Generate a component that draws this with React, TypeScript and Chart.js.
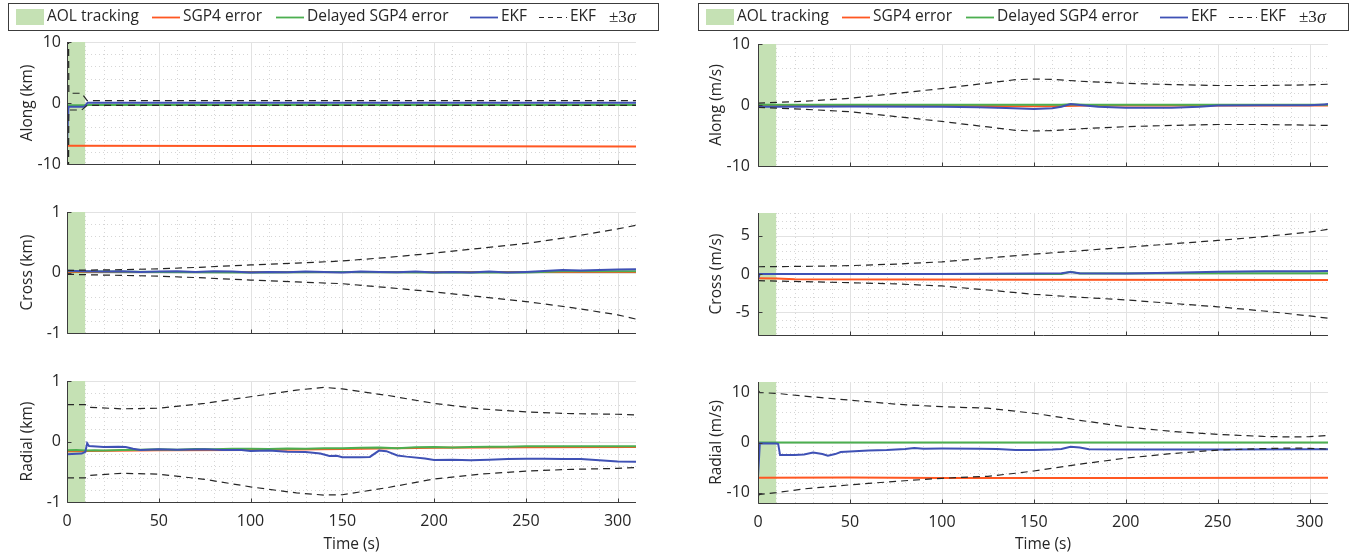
import React, { useEffect, useRef } from "react";
import { Chart, registerables } from "chart.js";

Chart.register(...registerables);

type Pt = [number, number];

// ---------------- shared axis data ----------------
const timeTicks = [0, 50, 100, 150, 200, 250, 300];
const timeMax = 310;
const timeMinorStep = 10;
const aolWindow = [0, 10];
const legendLabels = ["AOL tracking", "SGP4 error", "Delayed SGP4 error", "EKF", "EKF"];

// ---------------- left column: position error (km) ----------------
const alongKmSGP4: Pt[] = [[0, -7.0], [100, -7.05], [200, -7.08], [310, -7.12]];
const alongKmDelayed: Pt[] = [[0, -0.38], [10, -0.38], [12, -0.33], [310, -0.33]];
const alongKmEKF: Pt[] = [[0, -7.0], [0.8, -0.6], [9.5, -0.6], [11.2, 0.05], [310, 0.05]];
const alongKmUpper: Pt[] = [[0, 60], [1, 1.6], [8, 1.6], [11, 0.4], [310, 0.4]];
const alongKmLower: Pt[] = [[0, -60], [1, -1.15], [8, -1.15], [11, -0.38], [310, -0.38]];

const crossKmSGP4: Pt[] = [[0, 0.01], [310, 0.01]];
const crossKmDelayed: Pt[] = [[0, 0.02], [50, 0.01], [100, 0.0], [150, 0.01], [200, 0.0], [250, 0.0], [270, 0.02], [310, 0.02]];
const crossKmEKF: Pt[] = [
  [0, 0.03], [10, 0.02], [20, 0.015], [30, 0.02], [40, 0.01], [50, 0.015], [60, 0.02], [70, 0.01],
  [80, 0.02], [90, 0.015], [100, 0.0], [110, 0.01], [120, 0.005], [130, 0.015], [140, 0.01], [150, 0.0],
  [160, 0.015], [170, 0.01], [180, 0.005], [190, 0.015], [200, 0.0], [210, 0.01], [220, 0.0], [230, 0.015],
  [240, 0.0], [250, 0.01], [260, 0.025], [270, 0.04], [280, 0.035], [290, 0.04], [300, 0.05], [310, 0.055],
];
const crossKmUpper: Pt[] = [[0, 0.035], [25, 0.045], [50, 0.06], [75, 0.09], [100, 0.125], [125, 0.155], [150, 0.19], [175, 0.25], [200, 0.32], [225, 0.4], [250, 0.48], [275, 0.59], [300, 0.72], [310, 0.78]];
const crossKmLower: Pt[] = [[0, -0.03], [25, -0.045], [50, -0.06], [75, -0.09], [100, -0.125], [125, -0.155], [150, -0.185], [175, -0.25], [200, -0.32], [225, -0.4], [250, -0.48], [275, -0.58], [300, -0.7], [310, -0.77]];

const radialKmSGP4: Pt[] = [[0, -0.16], [50, -0.145], [100, -0.14], [150, -0.125], [200, -0.105], [250, -0.095], [310, -0.09]];
const radialKmDelayed: Pt[] = [
  [0, -0.145], [5, -0.14], [10, -0.15], [15, -0.145], [20, -0.15], [30, -0.14], [40, -0.135], [50, -0.13],
  [60, -0.135], [70, -0.125], [80, -0.13], [90, -0.12], [100, -0.12], [110, -0.125], [120, -0.115], [130, -0.12],
  [140, -0.11], [150, -0.11], [160, -0.105], [170, -0.1], [180, -0.11], [190, -0.095], [200, -0.09], [210, -0.1],
  [220, -0.09], [230, -0.085], [240, -0.085], [250, -0.08], [270, -0.08], [290, -0.08], [310, -0.08],
];
const radialKmEKF: Pt[] = [
  [0, -0.21], [8, -0.2], [10, -0.17], [11, -0.03], [12, -0.075], [20, -0.09], [28, -0.085], [32, -0.09],
  [36, -0.12], [40, -0.14], [50, -0.13], [60, -0.135], [75, -0.13], [85, -0.14], [95, -0.14], [100, -0.155],
  [110, -0.15], [120, -0.17], [130, -0.175], [138, -0.2], [143, -0.24], [147, -0.235], [150, -0.26], [160, -0.26],
  [165, -0.255], [170, -0.15], [174, -0.16], [180, -0.23], [185, -0.25], [195, -0.28], [200, -0.305], [210, -0.3],
  [220, -0.31], [230, -0.3], [240, -0.29], [250, -0.285], [260, -0.285], [270, -0.29], [280, -0.29], [290, -0.31],
  [300, -0.33], [310, -0.335],
];
const radialKmUpper: Pt[] = [[0, 0.61], [10, 0.61], [12, 0.565], [30, 0.54], [50, 0.55], [75, 0.63], [100, 0.74], [125, 0.85], [140, 0.895], [150, 0.87], [175, 0.76], [200, 0.63], [225, 0.54], [250, 0.49], [275, 0.46], [300, 0.45], [310, 0.44]];
const radialKmLower: Pt[] = [[0, -0.6], [10, -0.6], [12, -0.56], [30, -0.525], [50, -0.54], [75, -0.625], [100, -0.75], [125, -0.85], [140, -0.885], [150, -0.88], [175, -0.76], [200, -0.62], [225, -0.54], [250, -0.49], [275, -0.46], [300, -0.445], [310, -0.43]];

// ---------------- right column: velocity error (m/s) ----------------
const alongMsSGP4: Pt[] = [[0, -0.1], [100, -0.1], [140, -0.2], [160, -0.2], [180, -0.1], [310, -0.1]];
const alongMsDelayed: Pt[] = [[0, 0.05], [165, 0.05], [170, 0.12], [178, 0.05], [310, 0.05]];
const alongMsEKF: Pt[] = [[0, -0.3], [10, -0.3], [50, -0.25], [100, -0.3], [120, -0.35], [135, -0.5], [150, -0.65], [160, -0.55], [165, -0.3], [170, 0.15], [175, 0.0], [185, -0.3], [200, -0.45], [225, -0.45], [240, -0.3], [250, -0.1], [275, -0.05], [300, -0.05], [308, 0.1], [310, 0.15]];
const alongMsUpper: Pt[] = [[0, 0.3], [25, 0.6], [50, 1.1], [75, 1.9], [100, 2.7], [125, 3.6], [140, 4.15], [150, 4.25], [160, 4.2], [175, 3.9], [200, 3.55], [225, 3.35], [250, 3.2], [275, 3.2], [300, 3.3], [310, 3.4]];
const alongMsLower: Pt[] = [[0, -0.4], [25, -0.7], [50, -1.1], [75, -1.9], [100, -2.7], [125, -3.6], [140, -4.15], [150, -4.25], [160, -4.2], [175, -3.9], [200, -3.55], [225, -3.35], [250, -3.2], [275, -3.2], [300, -3.3], [310, -3.35]];

const crossMsSGP4: Pt[] = [[0, -0.55], [10, -0.6], [20, -0.7], [150, -0.75], [310, -0.8]];
const crossMsDelayed: Pt[] = [[0, 0.0], [165, 0.0], [170, 0.3], [175, 0.05], [250, 0.1], [310, 0.1]];
const crossMsEKF: Pt[] = [[0, -0.65], [1, 0.0], [50, 0.0], [100, 0.0], [150, 0.05], [165, 0.1], [170, 0.25], [175, 0.1], [200, 0.05], [225, 0.15], [250, 0.3], [275, 0.35], [300, 0.35], [310, 0.4]];
const crossMsUpper: Pt[] = [[0, 0.95], [25, 1.0], [50, 1.1], [75, 1.3], [100, 1.6], [125, 2.1], [150, 2.6], [175, 3.05], [200, 3.5], [225, 3.95], [250, 4.4], [275, 4.9], [300, 5.5], [310, 5.85]];
const crossMsLower: Pt[] = [[0, -0.87], [25, -1.0], [50, -1.14], [75, -1.3], [100, -1.57], [125, -2.1], [150, -2.66], [175, -3.05], [200, -3.4], [225, -3.85], [250, -4.3], [275, -4.85], [300, -5.5], [310, -5.8]];

const radialMsSGP4: Pt[] = [[0, -7.0], [50, -6.95], [100, -7.05], [200, -7.05], [310, -7.0]];
const radialMsDelayed: Pt[] = [[0, 0.0], [310, 0.0]];
const radialMsEKF: Pt[] = [
  [0, -6.9], [1, -0.15], [10, -0.2], [11, -0.3], [12, -2.5], [20, -2.5], [25, -2.4], [30, -2.0], [35, -2.3],
  [38, -2.6], [42, -2.3], [45, -1.9], [50, -1.8], [60, -1.6], [70, -1.5], [80, -1.3], [85, -1.1], [90, -1.25],
  [100, -1.2], [120, -1.25], [130, -1.3], [140, -1.5], [150, -1.5], [160, -1.4], [165, -1.3], [170, -0.85],
  [175, -1.0], [180, -1.35], [200, -1.4], [250, -1.4], [300, -1.35], [310, -1.35],
];
const radialMsUpper: Pt[] = [[0, 10.4], [1, 9.9], [10, 9.75], [25, 9.2], [50, 8.4], [75, 7.6], [100, 7.1], [125, 6.8], [140, 6.2], [150, 5.8], [175, 4.4], [200, 3.1], [225, 2.2], [250, 1.6], [275, 1.2], [290, 1.1], [300, 1.15], [310, 1.4]];
const radialMsLower: Pt[] = [[0, -10.5], [1, -10.3], [10, -9.95], [25, -9.2], [50, -8.4], [75, -7.7], [100, -7.1], [125, -6.7], [140, -6.1], [150, -5.65], [175, -4.3], [200, -3.1], [225, -2.2], [250, -1.5], [275, -1.2], [290, -1.1], [300, -1.15], [310, -1.3]];

// ---------------- styling / layout ----------------
const FONT = "'Open Sans', sans-serif";
const TXT = "#262626";
const C_SGP4 = "#FF5722";
const C_DEL = "#4CAF50";
const C_EKF = "#3F51B5";
const C_SIG = "#262626";
const C_AOL = "rgb(197,225,180)";

const COLS = [
  { cx: 0, cw: 680, px0: 67, px1: 636, titlePad: 18, tickPad: 6, legendX: 8 },
  { cx: 680, cw: 674, px0: 758, px1: 1328, titlePad: 27, tickPad: 8, legendX: 698 },
];
const ROWS = [
  { cy: 0, ch: 185 },
  { cy: 185, ch: 170 },
  { cy: 355, ch: 199 },
];
const PLOT_Y = [
  [[42, 164], [212, 333], [381, 502]],
  [[44, 166], [213, 335], [382, 503]],
];

interface PanelCfg {
  col: number;
  row: number;
  yTitle: string;
  yMin: number;
  yMax: number;
  yTicks: number[];
  yMinorStep: number;
  sgp4: Pt[];
  delayed: Pt[];
  ekf: Pt[];
  upper: Pt[];
  lower: Pt[];
}

const PANELS: PanelCfg[] = [
  { col: 0, row: 0, yTitle: "Along (km)", yMin: -10, yMax: 10, yTicks: [-10, 0, 10], yMinorStep: 2, sgp4: alongKmSGP4, delayed: alongKmDelayed, ekf: alongKmEKF, upper: alongKmUpper, lower: alongKmLower },
  { col: 0, row: 1, yTitle: "Cross (km)", yMin: -1, yMax: 1, yTicks: [-1, 0, 1], yMinorStep: 0.2, sgp4: crossKmSGP4, delayed: crossKmDelayed, ekf: crossKmEKF, upper: crossKmUpper, lower: crossKmLower },
  { col: 0, row: 2, yTitle: "Radial (km)", yMin: -1, yMax: 1, yTicks: [-1, 0, 1], yMinorStep: 0.2, sgp4: radialKmSGP4, delayed: radialKmDelayed, ekf: radialKmEKF, upper: radialKmUpper, lower: radialKmLower },
  { col: 1, row: 0, yTitle: "Along (m/s)", yMin: -10, yMax: 10, yTicks: [-10, 0, 10], yMinorStep: 2, sgp4: alongMsSGP4, delayed: alongMsDelayed, ekf: alongMsEKF, upper: alongMsUpper, lower: alongMsLower },
  { col: 1, row: 1, yTitle: "Cross (m/s)", yMin: -8, yMax: 8, yTicks: [-5, 0, 5], yMinorStep: 1, sgp4: crossMsSGP4, delayed: crossMsDelayed, ekf: crossMsEKF, upper: crossMsUpper, lower: crossMsLower },
  { col: 1, row: 2, yTitle: "Radial (m/s)", yMin: -12, yMax: 12, yTicks: [-10, 0, 10], yMinorStep: 2, sgp4: radialMsSGP4, delayed: radialMsDelayed, ekf: radialMsEKF, upper: radialMsUpper, lower: radialMsLower },
];

const toXY = (pts: Pt[]) => pts.map(([x, y]) => ({ x, y }));
const near = (a: number, list: number[]) => list.some((v) => Math.abs(v - a) < 1e-6);

function gridPlugin(cfg: PanelCfg) {
  return {
    id: "matlabGrid",
    beforeDatasetsDraw(chart: any) {
      const { ctx, chartArea: a } = chart;
      const xs = chart.scales.x;
      const ys = chart.scales.y;
      ctx.save();
      ctx.beginPath();
      ctx.rect(a.left, a.top, a.right - a.left, a.bottom - a.top);
      ctx.clip();
      // minor dotted grid
      ctx.lineWidth = 1;
      ctx.strokeStyle = "#d6d6d6";
      ctx.setLineDash([1, 3]);
      ctx.beginPath();
      const nx = Math.round(timeMax / timeMinorStep);
      for (let i = 0; i <= nx; i++) {
        const v = i * timeMinorStep;
        if (near(v, timeTicks)) continue;
        const p = Math.round(xs.getPixelForValue(v)) + 0.5;
        ctx.moveTo(p, a.top);
        ctx.lineTo(p, a.bottom);
      }
      const ny = Math.round((cfg.yMax - cfg.yMin) / cfg.yMinorStep);
      for (let i = 0; i <= ny; i++) {
        const v = cfg.yMin + i * cfg.yMinorStep;
        if (near(v, cfg.yTicks)) continue;
        const p = Math.round(ys.getPixelForValue(v)) + 0.5;
        ctx.moveTo(a.left, p);
        ctx.lineTo(a.right, p);
      }
      ctx.stroke();
      // major solid grid
      ctx.setLineDash([]);
      ctx.strokeStyle = "#e2e2e2";
      ctx.beginPath();
      for (const v of timeTicks) {
        const p = Math.round(xs.getPixelForValue(v)) + 0.5;
        ctx.moveTo(p, a.top);
        ctx.lineTo(p, a.bottom);
      }
      for (const v of cfg.yTicks) {
        const p = Math.round(ys.getPixelForValue(v)) + 0.5;
        ctx.moveTo(a.left, p);
        ctx.lineTo(a.right, p);
      }
      ctx.stroke();
      ctx.restore();
    },
    afterDatasetsDraw(chart: any) {
      const { ctx, chartArea: a } = chart;
      const xs = chart.scales.x;
      const ys = chart.scales.y;
      ctx.save();
      ctx.setLineDash([]);
      ctx.strokeStyle = "#3c3c3c";
      ctx.lineWidth = 1;
      ctx.beginPath();
      const b = Math.round(a.bottom) + 0.5;
      const l = Math.round(a.left) + 0.5;
      ctx.moveTo(l, Math.round(a.top));
      ctx.lineTo(l, b);
      ctx.lineTo(Math.round(a.right), b);
      for (const v of timeTicks) {
        const p = Math.round(xs.getPixelForValue(v)) + 0.5;
        ctx.moveTo(p, b);
        ctx.lineTo(p, b - 4);
      }
      for (const v of cfg.yTicks) {
        const p = Math.round(ys.getPixelForValue(v)) + 0.5;
        ctx.moveTo(l, p);
        ctx.lineTo(l + 4, p);
      }
      ctx.stroke();
      ctx.restore();
    },
  };
}

function legendPlugin(cfg: PanelCfg) {
  return {
    id: "topLegend",
    afterDraw(chart: any) {
      if (cfg.row !== 0) return;
      const col = COLS[cfg.col];
      const ctx = chart.ctx;
      const bx = col.legendX - col.cx;
      const cy = 17;
      const lf = `15.5px ${FONT}`;
      ctx.save();
      ctx.setLineDash([]);
      ctx.strokeStyle = "#3c3c3c";
      ctx.lineWidth = 1;
      ctx.strokeRect(bx + 0.5, 3.5, 650, 27);
      ctx.fillStyle = C_AOL;
      ctx.fillRect(bx + 8, 9, 28, 16);
      ctx.font = lf;
      ctx.fillStyle = TXT;
      ctx.textBaseline = "middle";
      ctx.textAlign = "left";
      ctx.fillText(legendLabels[0], bx + 39, cy);
      const items: [number, string, number[], number, number][] = [
        [144, C_SGP4, [], 1.8, 1],
        [268, C_DEL, [], 1.8, 2],
        [462, C_EKF, [], 1.8, 3],
        [531, C_SIG, [5, 4], 1.2, 4],
      ];
      for (const [x0, color, dash, w, li] of items) {
        ctx.beginPath();
        ctx.strokeStyle = color;
        ctx.lineWidth = w;
        ctx.setLineDash(dash);
        ctx.moveTo(bx + x0, cy + 0.5);
        ctx.lineTo(bx + x0 + 28, cy + 0.5);
        ctx.stroke();
        ctx.setLineDash([]);
        ctx.fillStyle = TXT;
        ctx.font = lf;
        ctx.fillText(legendLabels[li], bx + x0 + 31, cy);
      }
      ctx.font = `17px 'Liberation Serif', serif`;
      ctx.fillText("\u00b13", bx + 601, cy + 1);
      ctx.font = `italic 18px 'Liberation Serif', serif`;
      ctx.fillText("\u03c3", bx + 619, cy + 1);
      ctx.restore();
    },
  };
}

function buildConfig(cfg: PanelCfg): any {
  const col = COLS[cfg.col];
  const row = ROWS[cfg.row];
  const [py0, py1] = PLOT_Y[cfg.col][cfg.row];
  const isBottom = cfg.row === 2;
  const xAxisH = isBottom ? row.cy + row.ch - py1 : 0;
  const padBottom = isBottom ? 0 : row.cy + row.ch - py1;
  const tickFont = { family: FONT, size: 16 };
  const titleFont = { family: FONT, size: 15.5 };
  const lineDs = (label: string, pts: Pt[], color: string, width: number, dash: number[], order: number) => ({
    label,
    data: toXY(pts),
    borderColor: color,
    backgroundColor: color,
    borderWidth: width,
    borderDash: dash,
    pointRadius: 0,
    tension: 0,
    fill: false,
    order,
  });
  return {
    type: "line",
    data: {
      datasets: [
        lineDs(legendLabels[4] + " +3\u03c3", cfg.upper, C_SIG, 1.2, [7, 5], 1),
        lineDs(legendLabels[4] + " -3\u03c3", cfg.lower, C_SIG, 1.2, [7, 5], 1),
        lineDs(legendLabels[3], cfg.ekf, C_EKF, 2, [], 2),
        lineDs(legendLabels[2], cfg.delayed, C_DEL, 2, [], 3),
        lineDs(legendLabels[1], cfg.sgp4, C_SGP4, 2, [], 4),
        {
          label: legendLabels[0],
          data: [
            { x: aolWindow[0], y: cfg.yMax },
            { x: aolWindow[1], y: cfg.yMax },
          ],
          borderWidth: 0,
          borderColor: "rgba(0,0,0,0)",
          backgroundColor: C_AOL,
          pointRadius: 0,
          fill: "start",
          order: 5,
        },
      ],
    },
    options: {
      animation: false,
      responsive: false,
      devicePixelRatio: 1,
      events: [],
      layout: {
        padding: { left: 0, top: py0 - row.cy, right: col.cx + col.cw - col.px1, bottom: padBottom },
      },
      plugins: { legend: { display: false }, tooltip: { enabled: false }, title: { display: false } },
      scales: {
        x: {
          type: "linear",
          min: 0,
          max: timeMax,
          display: isBottom,
          afterBuildTicks: (s: any) => {
            s.ticks = timeTicks.map((v) => ({ value: v }));
          },
          afterFit: (s: any) => {
            s.height = xAxisH;
          },
          grid: { display: false, drawTicks: false },
          border: { display: false },
          ticks: { display: isBottom, font: tickFont, color: TXT, padding: 10, maxRotation: 0, autoSkip: false, callback: (v: any) => String(v) },
          title: { display: isBottom, text: "Time (s)", font: titleFont, color: TXT, padding: { top: 0, bottom: 0 } },
        },
        y: {
          type: "linear",
          min: cfg.yMin,
          max: cfg.yMax,
          afterBuildTicks: (s: any) => {
            s.ticks = cfg.yTicks.map((v) => ({ value: v }));
          },
          afterFit: (s: any) => {
            s.width = col.px0 - col.cx;
          },
          grid: { display: false, drawTicks: false },
          border: { display: false },
          ticks: { font: tickFont, color: TXT, padding: col.tickPad, autoSkip: false, callback: (v: any) => String(v) },
          title: { display: true, text: cfg.yTitle, font: titleFont, color: TXT, padding: { top: col.titlePad, bottom: 0 } },
        },
      },
    },
    plugins: [gridPlugin(cfg), legendPlugin(cfg)],
  };
}

function Panel({ cfg }: { cfg: PanelCfg }) {
  const ref = useRef<HTMLCanvasElement>(null);
  const col = COLS[cfg.col];
  const row = ROWS[cfg.row];
  useEffect(() => {
    if (!ref.current) return;
    const chart = new Chart(ref.current, buildConfig(cfg));
    return () => chart.destroy();
  }, [cfg]);
  return (
    <canvas
      ref={ref}
      width={col.cw}
      height={row.ch}
      style={{ position: "absolute", left: col.cx, top: row.cy, width: col.cw, height: row.ch, display: "block" }}
    />
  );
}

export default function App() {
  return (
    <div style={{ position: "absolute", left: 0, top: 0, width: 1354, height: 554, background: "#fff", overflow: "hidden" }}>
      {PANELS.map((p, i) => (
        <Panel key={i} cfg={p} />
      ))}
    </div>
  );
}
